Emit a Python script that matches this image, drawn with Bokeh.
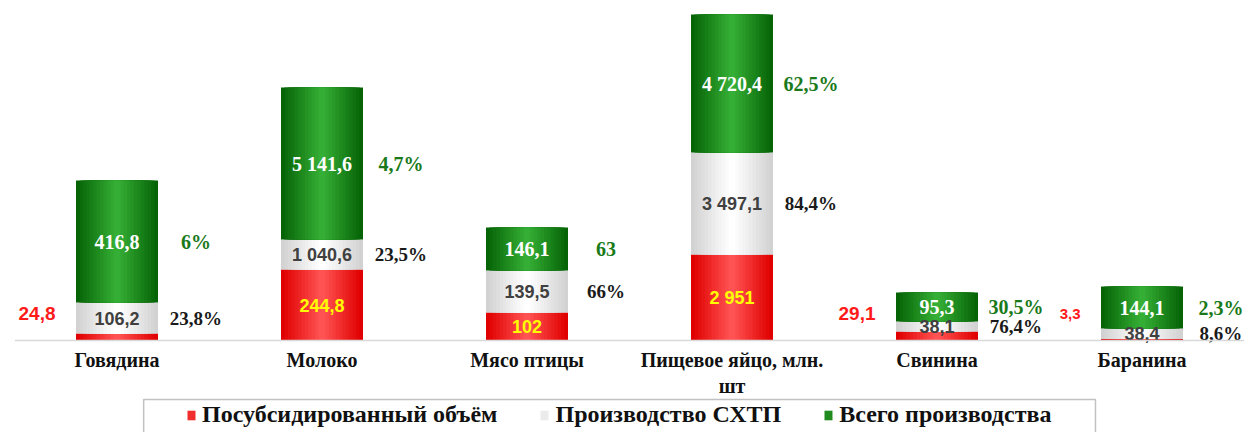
from bokeh.plotting import figure
from bokeh.models import (ColumnDataSource, FactorRange, Range1d, Legend, LegendItem, BoxAnnotation)
from bokeh.core.properties import value
from bokeh.embed import file_html
from bokeh.resources import INLINE

# ---------------- data ----------------
categories = ["Говядина", "Молоко", "Мясо птицы", "Пищевое яйцо, млн.\nшт", "Свинина", "Баранина"]
# drawn segment heights (chart units as shown in the reference)
red_h = [7, 71, 28, 86, 9, 1.5]
white_h = [31, 30, 42, 102, 10, 10.5]
green_h = [122, 152, 43, 138, 29, 42]
# printed labels
red_labels = ["24,8", "244,8", "102", "2 951", "29,1", "3,3"]
white_labels = ["106,2", "1 040,6", "139,5", "3 497,1", "38,1", "38,4"]
green_labels = ["416,8", "5 141,6", "146,1", "4 720,4", "95,3", "144,1"]
green_pct = ["6%", "4,7%", "63", "62,5%", "30,5%", "2,3%"]
white_pct = ["23,8%", "23,5%", "66%", "84,4%", "76,4%", "8,6%"]
series_names = ["Посубсидированный объём", "Производство СХТП", "Всего производства"]

# ---------------- derived geometry ----------------
red_top = list(red_h)
white_top = [r + w for r, w in zip(red_h, white_h)]
green_top = [t + g for t, g in zip(white_top, green_h)]

BAR_W = 0.4
N_LAYERS = 12


def hex2rgb(h):
    h = h.lstrip("#")
    return tuple(int(h[i:i + 2], 16) for i in (0, 2, 4))


def lerp(c1, c2, t):
    a, b = hex2rgb(c1), hex2rgb(c2)
    return "#%02x%02x%02x" % tuple(int(round(a[i] + (b[i] - a[i]) * t)) for i in range(3))


# frame extends below the baseline so that the category labels and legend live inside it
p = figure(x_range=FactorRange(*categories, range_padding=0), y_range=Range1d(-92, 332),
           frame_width=1230, frame_height=424, output_backend="svg", toolbar_location=None,
           min_border_left=14, min_border_right=6, min_border_top=8, min_border_bottom=0)
p.outline_line_color = None
p.xgrid.visible = False
p.ygrid.visible = False
p.yaxis.visible = False
p.background_fill_color = "white"
p.border_fill_color = "white"

src = ColumnDataSource(dict(
    x=categories, red_top=red_top, white_top=white_top, green_top=green_top,
    white_bottom=red_top, green_bottom=white_top,
))

segments = [
    ("zero", "red_top", "#e00000", "#ff5252"),
    ("white_bottom", "white_top", "#d2d2d2", "#ffffff"),
    ("green_bottom", "green_top", "#066406", "#35ae35"),
]
legend_renderers = []
for bottom, top, edge, center in segments:
    layers = []
    for k in range(N_LAYERS):
        t = k / (N_LAYERS - 1)
        w = BAR_W * (1 - k / N_LAYERS)
        col = lerp(edge, center, t)
        if bottom == "zero":
            r = p.vbar(x="x", top=top, bottom=0, width=w, source=src, fill_color=col, line_color=None)
        else:
            r = p.vbar(x="x", top=top, bottom=bottom, width=w, source=src, fill_color=col, line_color=None)
        layers.append(r)
    legend_renderers.append(layers[N_LAYERS // 2])

# ---------------- labels ----------------
green_mid = [(a + b) / 2 for a, b in zip(white_top, green_top)]
white_mid = [(a + b) / 2 for a, b in zip(red_top, white_top)]
red_mid = [h / 2 for h in red_h]

in_src = ColumnDataSource(dict(x=categories, y=green_mid, t=green_labels))
p.text(x="x", y="y", text="t", source=in_src, text_align="center", text_baseline="middle",
       text_color="white", text_font=value("Liberation Serif"), text_font_style="bold",
       text_font_size="20px")

wh_src = ColumnDataSource(dict(x=categories, y=white_mid, t=white_labels))
p.text(x="x", y="y", text="t", source=wh_src, text_align="center", text_baseline="middle",
       text_color="#404040", text_font=value("Liberation Sans"), text_font_style="bold",
       text_font_size="18px")

inside = [h >= 20 for h in red_h]
rin = ColumnDataSource(dict(
    x=[c for c, i in zip(categories, inside) if i],
    y=[m for m, i in zip(red_mid, inside) if i],
    t=[l for l, i in zip(red_labels, inside) if i]))
p.text(x="x", y="y", text="t", source=rin, text_align="center", text_baseline="middle",
       text_color="#ffff00", text_font=value("Liberation Sans"), text_font_style="bold",
       text_font_size="18px")

out_sizes = ["19px" if l != "3,3" else "15px" for l in red_labels]
rout = ColumnDataSource(dict(
    x=[(c, -0.3) for c, i in zip(categories, inside) if not i],
    y=[27 for i in inside if not i],
    t=[l for l, i in zip(red_labels, inside) if not i],
    s=[s for s, i in zip(out_sizes, inside) if not i]))
p.text(x="x", y="y", text="t", source=rout, text_align="right", text_baseline="middle",
       text_color="#ff1a1a", text_font=value("Liberation Sans"), text_font_style="bold",
       text_font_size="s")

gp = ColumnDataSource(dict(x=[(c, 0.385) for c in categories], y=green_mid, t=green_pct))
p.text(x="x", y="y", text="t", source=gp, text_align="center", text_baseline="middle",
       text_color="#1a7a1a", text_font=value("Liberation Serif"), text_font_style="bold",
       text_font_size="20px")

wp = ColumnDataSource(dict(x=[(c, 0.385) for c in categories], y=white_mid, t=white_pct))
p.text(x="x", y="y", text="t", source=wp, text_align="center", text_baseline="middle",
       text_color="#1a1a1a", text_font=value("Liberation Serif"), text_font_style="bold",
       text_font_size="19px")

# ---------------- axis (pinned at the zero baseline) ----------------
ax = p.xaxis[0]
ax.fixed_location = 0
ax.axis_line_color = "#d9d9d9"
ax.axis_line_width = 1.5
ax.major_tick_line_color = None
ax.minor_tick_line_color = None
ax.major_tick_out = 0
ax.major_label_text_font = "Liberation Serif"
ax.major_label_text_font_style = "bold"
ax.major_label_text_font_size = "20px"
ax.major_label_text_color = "#111111"
ax.major_label_standoff = 8

# ---------------- legend (under the category labels, cut by the bottom edge) ----------------
legend_frame = BoxAnnotation(left=0.63, right=5.273, top=-59, bottom=-120,
                             fill_color="white", fill_alpha=1.0,
                             line_color="#333333", line_width=1.5)
p.add_layout(legend_frame)

legend = Legend(items=[LegendItem(label=n, renderers=[r]) for n, r in zip(series_names, legend_renderers)],
                orientation="horizontal", location=(172, 4))
legend.border_line_color = None
legend.background_fill_alpha = 0
legend.label_text_font = "Liberation Serif"
legend.label_text_font_style = "bold"
legend.label_text_font_size = "24px"
legend.label_text_color = "#111111"
legend.glyph_width = 10
legend.glyph_height = 12
legend.label_standoff = 6
legend.spacing = 42
legend.padding = 6
legend.margin = 0
p.add_layout(legend, "center")

open("out.html", "w").write(file_html(p, INLINE))
